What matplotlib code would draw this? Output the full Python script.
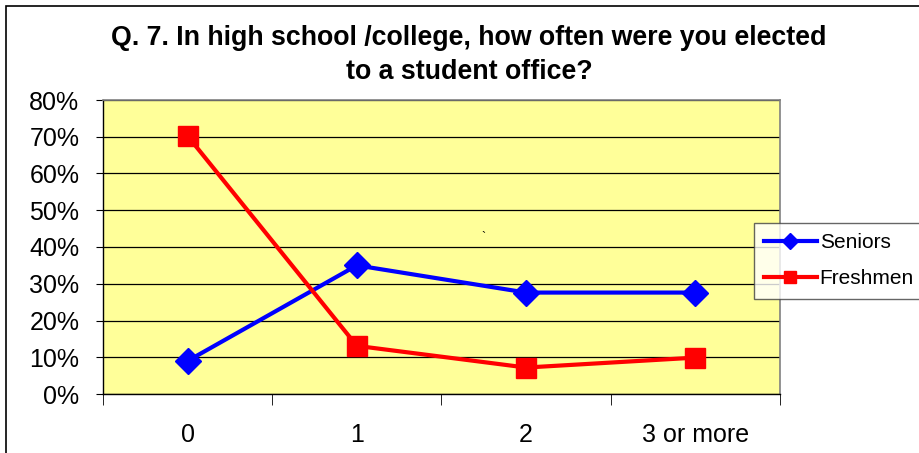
import matplotlib
matplotlib.use("Agg")
import matplotlib.pyplot as plt
from matplotlib.patches import Rectangle
from matplotlib.ticker import PercentFormatter, FixedLocator

plt.rcParams["font.family"] = ["Liberation Sans", "DejaVu Sans"]

categories = ["0", "1", "2", "3 or more"]
seniors = [9.0, 35.0, 27.6, 27.6]
freshmen = [70.2, 13.1, 7.2, 9.9]
title_lines = ["Q. 7. In high school /college, how often were you elected",
               "to a student office?"]

W, H = 920, 453
fig = plt.figure(figsize=(W / 100, H / 100), dpi=100)

# outer chart border (runs off the right and bottom edges)
fig.patches.append(Rectangle((6 / W, -0.1), 1.2, 1.1 - 6 / H, transform=fig.transFigure,
                             fill=False, edgecolor="black", linewidth=1.2))

ax = fig.add_axes([103 / W, 1 - 394 / H, 677 / W, 294 / H])
ax.set_facecolor("#FFFF99")

x = list(range(len(categories)))
ax.plot(x, seniors, color="#0000FF", lw=3, marker="D", ms=13.5, label="Seniors")
ax.plot(x, freshmen, color="#FF0000", lw=3, marker="s", ms=15, label="Freshmen")

ax.set_xlim(-0.5, 3.5)
ax.set_ylim(0, 80)
ax.set_yticks(range(0, 81, 10))
ax.yaxis.set_major_formatter(PercentFormatter(decimals=0))
ax.grid(axis="y", color="black", lw=0.9)
ax.set_axisbelow(True)

ax.set_xticks(x)
ax.set_xticklabels(categories)
ax.xaxis.set_minor_locator(FixedLocator([-0.5, 0.5, 1.5, 2.5, 3.5]))
ax.tick_params(axis="x", which="major", length=0, pad=21, labelsize=18)
ax.tick_params(axis="x", which="minor", length=8, color="black")
ax.tick_params(axis="y", length=5, pad=12, labelsize=18)

for s in ["top", "right"]:
    ax.spines[s].set_color("#808080")
    ax.spines[s].set_linewidth(1.2)
for s in ["left", "bottom"]:
    ax.spines[s].set_color("black")
    ax.spines[s].set_linewidth(1)

ax.text(1.75, 42.5, "`", fontsize=9, ha="center", va="center")

fig.text(469 / W, 1 - 38 / H, title_lines[0], ha="center", va="center", fontsize=19.3,
         fontweight="bold")
fig.text(469 / W, 1 - 72 / H, title_lines[1], ha="center", va="center", fontsize=19.3,
         fontweight="bold")

leg = fig.legend(loc="upper left", bbox_to_anchor=(754 / W, 1 - 223 / H), fontsize=15,
                 frameon=True, fancybox=False, borderpad=0.5, handlelength=2.5,
                 markerscale=0.6, labelspacing=0.82, handletextpad=0.15, borderaxespad=0)
leg.get_frame().set_edgecolor("#404040")
leg.get_frame().set_linewidth(1)
leg._legend_box.align = "left"

fig.savefig("out.png", dpi=100)
